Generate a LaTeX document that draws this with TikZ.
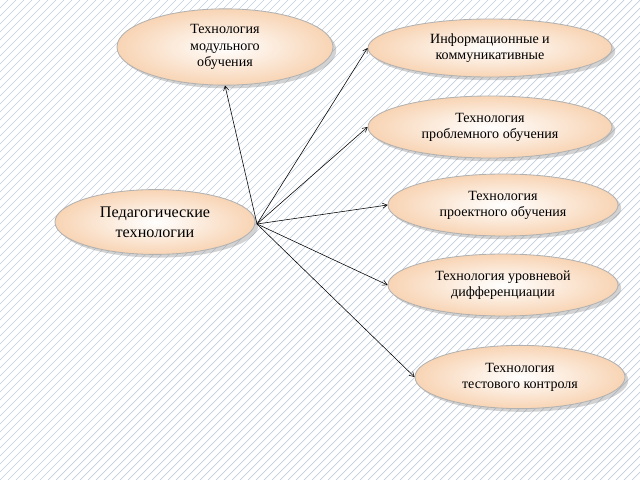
\documentclass[tikz,border=0pt]{standalone}
\usepackage{fontspec}
\setmainfont{Liberation Serif}
\usetikzlibrary{shadows,arrows,shapes.geometric}
\definecolor{peach}{RGB}{248,212,180}
\definecolor{hatch}{RGB}{195,205,220}
\tikzset{
  tech/.style={ellipse,draw=gray!60,line width=0.6pt,inner color=white,outer color=peach,
    drop shadow={opacity=0.35},align=center,font=\fontsize{10}{11.5}\selectfont},
  link/.style={->,>=angle 60,line width=0.4pt}
}
\begin{document}
\begin{tikzpicture}[x=0.025cm,y=-0.025cm]
\useasboundingbox (0,0) rectangle (640,480);
\begin{scope}
\clip (0,0) rectangle (640,480);
\foreach \i in {0,8,...,1120}
  \draw[hatch,line width=0.5pt] (\i-480,480)--(\i,0);
\end{scope}
\node[tech,minimum width=5.4cm,minimum height=1.55cm] (modul) at (225,47) {Технология\\модульного\\обучения};
\node[tech,minimum width=6.1cm,minimum height=1.45cm] (inform) at (490,48) {Информационные и\\коммуникативные};
\node[tech,minimum width=6.1cm,minimum height=1.55cm] (problem) at (490,127) {Технология\\проблемного обучения};
\node[tech,minimum width=5.75cm,minimum height=1.55cm] (project) at (503,205) {Технология\\проектного обучения};
\node[tech,minimum width=5.75cm,minimum height=1.55cm] (level) at (503,285) {Технология уровневой\\дифференциации};
\node[tech,minimum width=5.25cm,minimum height=1.58cm] (test) at (520,377) {Технология\\тестового контроля};
\node[tech,minimum width=5cm,minimum height=1.62cm,font=\fontsize{11.5}{14}\selectfont] (ped) at (155,222) {Педагогические\\технологии};
\coordinate (hub) at (257,224);
\draw[link] (hub) -- (modul.south);
\draw[link] (hub) -- (inform.west);
\draw[link] (hub) -- (problem.west);
\draw[link] (hub) -- (project.west);
\draw[link] (hub) -- (level.west);
\draw[link] (hub) -- (test.west);
\end{tikzpicture}
\end{document}
